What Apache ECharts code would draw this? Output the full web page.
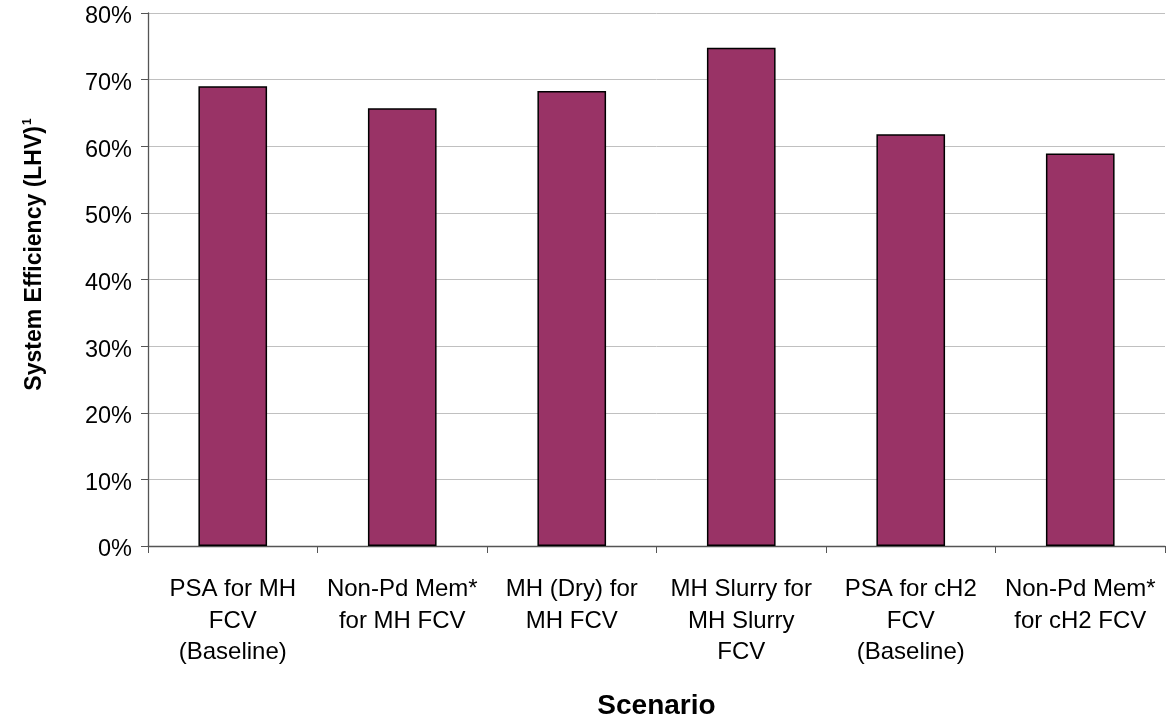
<!DOCTYPE html>
<html>
<head>
<meta charset="utf-8">
<script src="https://cdn.jsdelivr.net/npm/echarts@6/dist/echarts.min.js"></script>
<style>
  html, body { margin: 0; padding: 0; background: #fff; }
  #chart { width: 1166px; height: 719px; }
</style>
</head>
<body>
<div id="chart"></div>
<script>
// Scenario names (line breaks as set on the axis)
const categories = [
  'PSA for MH\nFCV\n(Baseline)',
  'Non-Pd Mem*\nfor MH FCV',
  'MH (Dry) for\nMH FCV',
  'MH Slurry for\nMH Slurry\nFCV',
  'PSA for cH2\nFCV\n(Baseline)',
  'Non-Pd Mem*\nfor cH2 FCV'
];
// System efficiency, % of LHV
const efficiency = [69.0, 65.7, 68.3, 74.8, 61.8, 58.9];
const yTicks = [0, 10, 20, 30, 40, 50, 60, 70, 80];

const FONT = 'Liberation Sans, Arial, sans-serif';
const chart = echarts.init(document.getElementById('chart'), null, { renderer: 'canvas' });

chart.setOption({
  animation: false,
  backgroundColor: '#ffffff',
  grid: { left: 148, right: 1, top: 13, bottom: 173, containLabel: false, outerBoundsMode: 'none' },
  xAxis: {
    type: 'category',
    data: categories,
    name: 'Scenario',
    nameLocation: 'middle',
    nameGap: 146,
    nameTextStyle: { fontFamily: FONT, fontSize: 28, fontWeight: 'bold', color: '#000' },
    axisLine: { lineStyle: { color: '#555', width: 1.3 } },
    axisTick: { show: true, alignWithLabel: false, length: 7, lineStyle: { color: '#555' } },
    axisLabel: {
      interval: 0,
      margin: 28,
      fontFamily: FONT,
      fontSize: 24,
      lineHeight: 31.5,
      color: '#000'
    },
    splitLine: { show: false }
  },
  yAxis: {
    type: 'value',
    min: yTicks[0],
    max: yTicks[yTicks.length - 1],
    interval: 10,
    name: '{a|System Efficiency (LHV)}{s|1}',
    nameLocation: 'middle',
    nameGap: 100,
    nameRotate: 90,
    nameTextStyle: {
      fontFamily: FONT,
      color: '#000',
      padding: [0, 0, 0, 50],
      rich: {
        a: { fontFamily: FONT, fontSize: 23, fontWeight: 'bold', color: '#000', lineHeight: 26 },
        s: { fontFamily: FONT, fontSize: 12, fontWeight: 'bold', color: '#000', verticalAlign: 'top', lineHeight: 26, padding: [0, 0, 14, 1] }
      }
    },
    axisLine: { show: true, lineStyle: { color: '#555', width: 1.3 } },
    axisTick: { show: true, length: 7, lineStyle: { color: '#555' } },
    axisLabel: {
      margin: 16,
      fontFamily: FONT,
      fontSize: 23.5,
      color: '#000',
      formatter: v => '{v|' + v + '%}',
      rich: {
        v: { fontFamily: FONT, fontSize: 23.5, color: '#000', padding: [8, 0, 0, 0] }
      }
    },
    splitLine: { show: true, lineStyle: { color: '#c0c0c0', width: 1 } }
  },
  series: [{
    type: 'bar',
    data: efficiency,
    barWidth: '40.5%',
    itemStyle: { color: '#993366', borderColor: '#000', borderWidth: 1.5 }
  }]
});
</script>
</body>
</html>
